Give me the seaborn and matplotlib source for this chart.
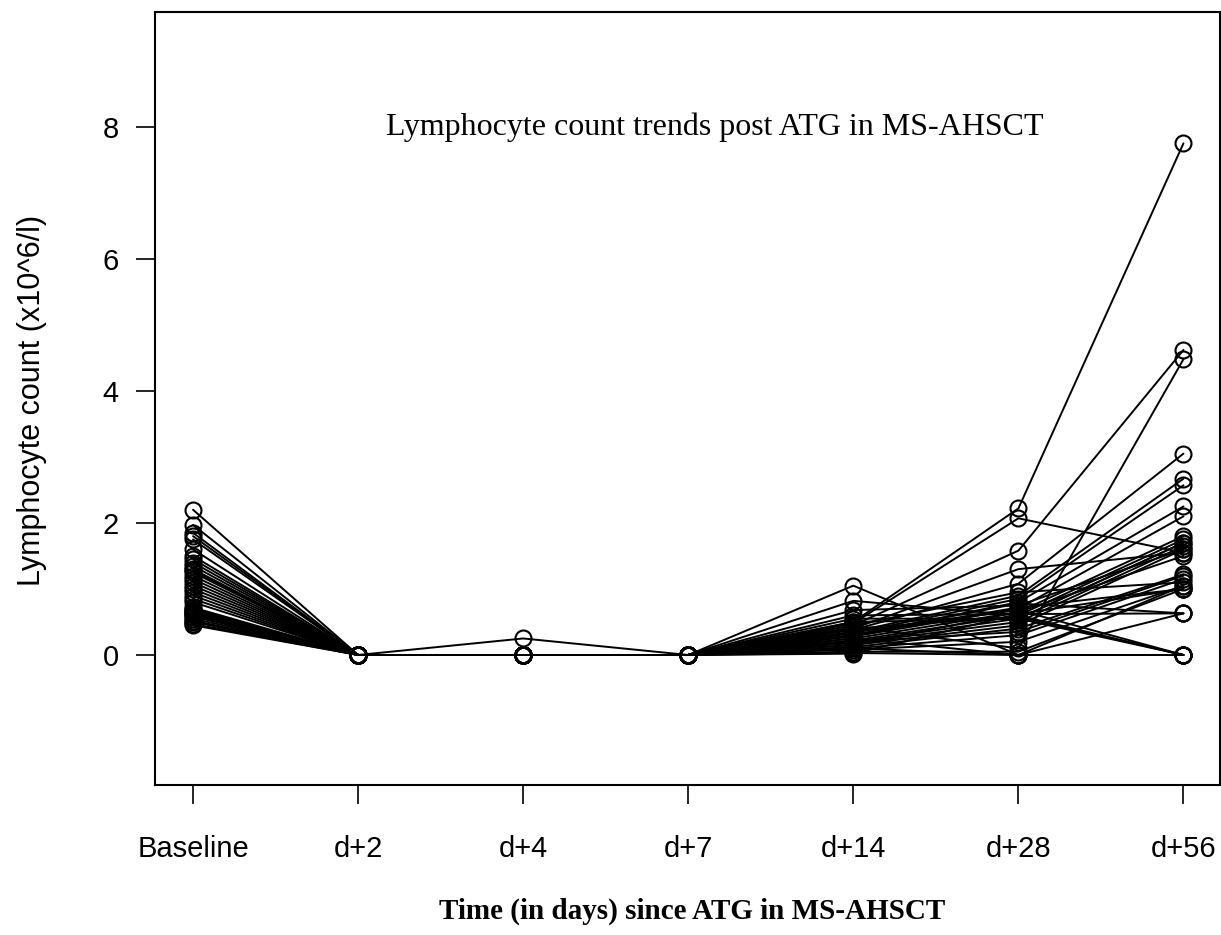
import matplotlib
matplotlib.use("Agg")
from matplotlib import pyplot as plt
import seaborn as sns
import pandas as pd

timepoints = ["Baseline", "d+2", "d+4", "d+7", "d+14", "d+28", "d+56"]

baseline = [2.20, 1.97, 1.85, 1.80, 1.75, 1.60, 1.50, 1.45, 1.40, 1.35, 1.30, 1.28,
            1.25, 1.20, 1.15, 1.10, 1.05, 1.00, 0.95, 0.90, 0.85, 0.80, 0.72, 0.70,
            0.68, 0.66, 0.65, 0.63, 0.62, 0.60, 0.58, 0.55, 0.52, 0.50, 0.47, 0.45]
d2 = [0.0] * 36
d4 = [0.0, 0.0, 0.0, 0.25] + [0.0] * 32
d7 = [0.0] * 36
d14 = [1.05, 0.82, 0.68, 0.55, 0.50, 0.48, 0.45, 0.42, 0.40, 0.38, 0.35, 0.33,
       0.30, 0.28, 0.25, 0.22, 0.20, 0.18, 0.15, 0.12, 0.10, 0.08, 0.05, 0.03,
       0.02, 0.40, 0.35, 0.30, 0.25, 0.45, 0.20, 0.15, 0.10, 0.50, 0.30, 0.60]
d28 = [0.00, 0.60, 0.75, 0.55, 2.22, 2.07, 1.58, 0.10, 1.30, 1.08, 0.90, 0.85,
       0.80, 0.70, 0.65, 0.60, 0.55, 0.50, 0.45, 0.40, 0.30, 0.20, 0.05, 0.00,
       0.62, 0.58, 0.68, 0.72, 0.00, 0.95, 0.35, 0.65, 0.00, 0.55, 0.78, 0.62]
d56 = [1.05, 0.00, 1.60, 0.00, 7.75, 1.55, 4.62, 4.48, 1.55, 3.05, 2.67, 2.57,
       2.25, 2.10, 1.80, 1.75, 1.70, 1.65, 1.60, 1.22, 1.15, 1.05, 1.00, 0.63,
       0.63, 0.00, 0.00, 1.00, 0.00, 1.10, 1.20, 1.50, 0.00, 1.70, 0.63, 1.00]

series = [baseline, d2, d4, d7, d14, d28, d56]
rows = []
for t, vals in enumerate(series):
    for pid, v in enumerate(vals):
        rows.append({"patient": pid, "tpos": t, "count": v})
df = pd.DataFrame(rows)

sns.set_style("ticks")
plt.rcParams["font.family"] = ["Liberation Sans", "DejaVu Sans"]

fig = plt.figure(figsize=(12.21, 9.35), dpi=100)
ax = fig.add_axes([0.127, 0.1604, 0.872, 0.8268])

sns.lineplot(data=df, x="tpos", y="count", units="patient", estimator=None,
             sort=False, color="black", lw=1.4, marker="o", markersize=11.5,
             markerfacecolor="none", markeredgecolor="black", markeredgewidth=1.5,
             ax=ax, legend=False)

ax.set_xlim(-0.23, 6.22)
ax.set_ylim(-1.97, 9.74)
ax.set_xticks(range(len(timepoints)))
ax.set_xticklabels(timepoints)
ax.set_yticks([0, 2, 4, 6, 8])
ax.tick_params(axis="both", direction="out", length=14, width=1.2, labelsize=21,
               color="black", labelcolor="black")
ax.tick_params(axis="x", pad=22)
ax.tick_params(axis="y", pad=12)
for s in ax.spines.values():
    s.set_linewidth(1.5)
    s.set_color("black")

ax.set_xlabel("")
ax.set_ylabel("")
fig.text(0.026, 0.572, "Lymphocyte count (x10^6/l)", rotation=90, ha="center",
         va="center", fontsize=22, color="black")
fig.text(0.567, 0.025, "Time (in days) since ATG in MS-AHSCT", ha="center",
         va="center", fontsize=21, fontweight="bold", family="Liberation Serif",
         color="black")
ax.text(3.16, 8.0, "Lymphocyte count trends post ATG in MS-AHSCT", ha="center",
        va="center", fontsize=23, family="Liberation Serif", color="black")

fig.savefig("out.png", dpi=100)
